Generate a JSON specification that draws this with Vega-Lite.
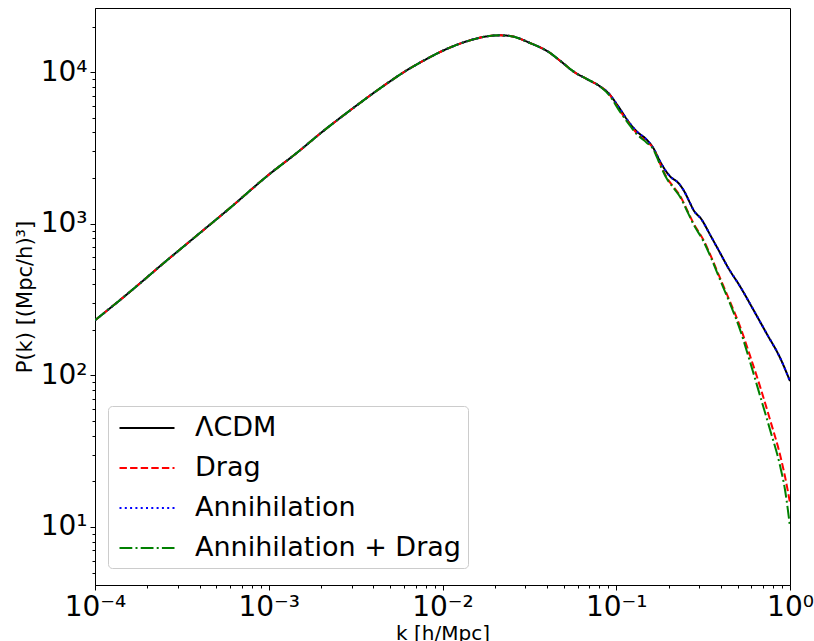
{
  "$schema": "https://vega.github.io/schema/vega-lite/v6.json",
  "width": 695,
  "height": 577,
  "autosize": {"type": "none"},
  "padding": {"left": 95, "top": 8, "right": 24, "bottom": 56},
  "background": "white",
  "config": {
    "font": "DejaVu Sans",
    "view": {"stroke": "black", "strokeWidth": 1},
    "axis": {"domainColor": "black", "tickColor": "black", "labelColor": "black", "titleColor": "black", "labelFont": "DejaVu Sans", "titleFont": "DejaVu Sans", "titleFontWeight": "normal", "labelFontSize": 28, "titleFontSize": 20, "grid": false, "tickWidth": 1, "domainWidth": 1}
  },
  "data": {"values": [
    {"k": 0.0001, "LCDM": 230.6, "Drag": 230.6, "Ann": 230.6, "AnnDrag": 230.6},
    {"k": 0.0001627, "LCDM": 363.7, "Drag": 363.7, "Ann": 363.7, "AnnDrag": 363.7},
    {"k": 0.0002528, "LCDM": 559.8, "Drag": 559.8, "Ann": 559.8, "AnnDrag": 559.8},
    {"k": 0.000393, "LCDM": 851.3, "Drag": 851.3, "Ann": 851.3, "AnnDrag": 851.3},
    {"k": 0.00062, "LCDM": 1316, "Drag": 1316, "Ann": 1316, "AnnDrag": 1316},
    {"k": 0.000964, "LCDM": 2035, "Drag": 2035, "Ann": 2035, "AnnDrag": 2035},
    {"k": 0.001513, "LCDM": 3050, "Drag": 3050, "Ann": 3050, "AnnDrag": 3050},
    {"k": 0.001972, "LCDM": 3929, "Drag": 3929, "Ann": 3929, "AnnDrag": 3929},
    {"k": 0.003066, "LCDM": 5805, "Drag": 5805, "Ann": 5805, "AnnDrag": 5805},
    {"k": 0.004774, "LCDM": 8398, "Drag": 8398, "Ann": 8398, "AnnDrag": 8398},
    {"k": 0.00622, "LCDM": 10277, "Drag": 10277, "Ann": 10277, "AnnDrag": 10277},
    {"k": 0.00811, "LCDM": 12220, "Drag": 12220, "Ann": 12220, "AnnDrag": 12220},
    {"k": 0.01057, "LCDM": 14223, "Drag": 14223, "Ann": 14223, "AnnDrag": 14223},
    {"k": 0.01378, "LCDM": 15970, "Drag": 15970, "Ann": 15970, "AnnDrag": 15970},
    {"k": 0.01796, "LCDM": 17224, "Drag": 17224, "Ann": 17224, "AnnDrag": 17224},
    {"k": 0.02142, "LCDM": 17490, "Drag": 17490, "Ann": 17490, "AnnDrag": 17490},
    {"k": 0.02446, "LCDM": 17330, "Drag": 17330, "Ann": 17330, "AnnDrag": 17330},
    {"k": 0.03189, "LCDM": 15580, "Drag": 15580, "Ann": 15580, "AnnDrag": 15580},
    {"k": 0.04158, "LCDM": 13390, "Drag": 13390, "Ann": 13390, "AnnDrag": 13390},
    {"k": 0.04747, "LCDM": 11907, "Drag": 11907, "Ann": 11907, "AnnDrag": 11907},
    {"k": 0.05658, "LCDM": 10120, "Drag": 10120, "Ann": 10120, "AnnDrag": 10120},
    {"k": 0.0676, "LCDM": 9018, "Drag": 9018, "Ann": 9018, "AnnDrag": 9018},
    {"k": 0.08063, "LCDM": 8058, "Drag": 8058, "Ann": 8058, "AnnDrag": 8058},
    {"k": 0.09, "LCDM": 7291, "Ann": 7291},
    {"k": 0.1027, "LCDM": 5949, "Ann": 5949},
    {"k": 0.1173, "LCDM": 4738, "Ann": 4738},
    {"k": 0.1311, "LCDM": 4069, "Ann": 4069},
    {"k": 0.1497, "LCDM": 3588, "Ann": 3588},
    {"k": 0.1633, "LCDM": 3162, "Ann": 3162},
    {"k": 0.1786, "LCDM": 2580, "Ann": 2580},
    {"k": 0.2039, "LCDM": 2055, "Ann": 2055},
    {"k": 0.2276, "LCDM": 1858, "Ann": 1858},
    {"k": 0.2431, "LCDM": 1678, "Ann": 1678},
    {"k": 0.2658, "LCDM": 1371, "Ann": 1371},
    {"k": 0.2776, "LCDM": 1239, "Ann": 1239},
    {"k": 0.3103, "LCDM": 1064, "Ann": 1064},
    {"k": 0.3465, "LCDM": 847.6, "Ann": 847.6},
    {"k": 0.3867, "LCDM": 674.9, "Ann": 674.9},
    {"k": 0.4415, "LCDM": 510.9, "Ann": 510.9},
    {"k": 0.5156, "LCDM": 386.5, "Ann": 386.5},
    {"k": 0.6149, "LCDM": 271.3, "Ann": 271.3},
    {"k": 0.7343, "LCDM": 188.4, "Ann": 188.4},
    {"k": 0.8758, "LCDM": 130.9, "Ann": 130.9},
    {"k": 1.0, "LCDM": 91.6, "Ann": 91.6},
    {"k": 0.09204, "Drag": 7053, "AnnDrag": 6950},
    {"k": 0.105, "Drag": 5572, "AnnDrag": 5490},
    {"k": 0.12, "Drag": 4505, "AnnDrag": 4440},
    {"k": 0.1311, "Drag": 3959, "AnnDrag": 3900},
    {"k": 0.1497, "Drag": 3480, "AnnDrag": 3428},
    {"k": 0.1633, "Drag": 3153, "AnnDrag": 3106},
    {"k": 0.1786, "Drag": 2491, "AnnDrag": 2454},
    {"k": 0.1952, "Drag": 2015, "AnnDrag": 1985},
    {"k": 0.2131, "Drag": 1757, "AnnDrag": 1731},
    {"k": 0.2328, "Drag": 1532, "AnnDrag": 1509},
    {"k": 0.2599, "Drag": 1184, "AnnDrag": 1166},
    {"k": 0.2776, "Drag": 1012, "AnnDrag": 997},
    {"k": 0.317, "Drag": 785.5, "AnnDrag": 770},
    {"k": 0.3541, "Drag": 594.9, "AnnDrag": 583},
    {"k": 0.3955, "Drag": 438.9, "AnnDrag": 428},
    {"k": 0.4517, "Drag": 306.3, "AnnDrag": 297.2},
    {"k": 0.5156, "Drag": 210.5, "AnnDrag": 200.2},
    {"k": 0.5886, "Drag": 134.9, "AnnDrag": 123.1},
    {"k": 0.6721, "Drag": 84.6, "AnnDrag": 73.5},
    {"k": 0.7674, "Drag": 51.0, "AnnDrag": 43.8},
    {"k": 0.8758, "Drag": 30.0, "AnnDrag": 25.4},
    {"k": 0.9359, "Drag": 21.5, "AnnDrag": 17.6},
    {"k": 1.0, "Drag": 14.4, "AnnDrag": 10.05}
  ]},
  "transform": [
    {"fold": ["LCDM", "Drag", "Ann", "AnnDrag"], "as": ["model", "P"]},
    {"filter": "isValid(datum.P)"}
  ],
  "mark": {"type": "line", "strokeWidth": 2, "clip": true, "interpolate": "monotone"},
  "encoding": {
    "x": {
      "field": "k", "type": "quantitative",
      "scale": {"type": "log", "domain": [0.0001, 1], "nice": false},
      "axis": {
        "title": "k [h/Mpc]",
        "titleFontSize": 20,
        "titleFont": "DejaVu Sans",
        "values": [0.0001, 0.0002, 0.0003, 0.0004, 0.0005, 0.0006, 0.0007, 0.0008, 0.0009, 0.001, 0.002, 0.003, 0.004, 0.005, 0.006, 0.007, 0.008, 0.009, 0.01, 0.02, 0.03, 0.04, 0.05, 0.06, 0.07, 0.08, 0.09, 0.1, 0.2, 0.3, 0.4, 0.5, 0.6, 0.7, 0.8, 0.9, 1],
        "labelExpr": "abs(log(datum.value)/LN10 - round(log(datum.value)/LN10)) < 1e-6 ? ['10⁻⁴','10⁻³','10⁻²','10⁻¹','10⁰'][round(log(datum.value)/LN10)+4] : ''",
        "tickSize": {"condition": {"test": "abs(log(datum.value)/LN10 - round(log(datum.value)/LN10)) < 1e-6", "value": 5}, "value": 3},
        "labelPadding": 3,
        "labelFlush": false,
        "labelOverlap": false,
        "labelBound": false,
        "titlePadding": 2
      }
    },
    "y": {
      "field": "P", "type": "quantitative",
      "scale": {"type": "log", "domain": [4.14, 26500], "nice": false},
      "axis": {
        "title": "P(k) [(Mpc/h)³]",
        "titleFontSize": 21,
        "titleFont": "DejaVu Sans",
        "values": [5, 6, 7, 8, 9, 10, 20, 30, 40, 50, 60, 70, 80, 90, 100, 200, 300, 400, 500, 600, 700, 800, 900, 1000, 2000, 3000, 4000, 5000, 6000, 7000, 8000, 9000, 10000, 20000],
        "labelExpr": "abs(log(datum.value)/LN10 - round(log(datum.value)/LN10)) < 1e-6 ? ['10⁰','10¹','10²','10³','10⁴'][round(log(datum.value)/LN10)] : ''",
        "tickSize": {"condition": {"test": "abs(log(datum.value)/LN10 - round(log(datum.value)/LN10)) < 1e-6", "value": 5}, "value": 3},
        "labelPadding": 3,
        "labelFlush": false,
        "labelOverlap": false,
        "labelBound": false,
        "titlePadding": 5
      }
    },
    "color": {
      "field": "model", "type": "nominal",
      "scale": {"domain": ["LCDM", "Drag", "Ann", "AnnDrag"], "range": ["#000000", "#ff0000", "#0000ff", "#008000"]},
      "legend": {
        "title": null, "orient": "none", "legendX": 13, "legendY": 398,
        "symbolType": "M-2,0H2", "symbolSize": 756.25, "symbolStrokeWidth": 2, "symbolOffset": 17,
        "labelFontSize": 27, "labelFont": "DejaVu Sans", "labelColor": "black", "labelOffset": 33, "labelLimit": 0,
        "rowPadding": 12, "padding": 7, "strokeColor": "#cccccc", "fillColor": "white", "cornerRadius": 4,
        "labelExpr": "{'LCDM':'ΛCDM','Drag':'Drag','Ann':'Annihilation','AnnDrag':'Annihilation + Drag'}[datum.label]"
      }
    },
    "strokeDash": {
      "field": "model", "type": "nominal",
      "scale": {"domain": ["LCDM", "Drag", "Ann", "AnnDrag"], "range": [[1, 0], [7.4, 3.2], [2, 3.3], [12.8, 3.2, 2, 3.2]]},
      "legend": {
        "title": null, "orient": "none", "legendX": 13, "legendY": 398,
        "symbolType": "M-2,0H2", "symbolSize": 756.25, "symbolStrokeWidth": 2, "symbolOffset": 17,
        "labelFontSize": 27, "labelFont": "DejaVu Sans", "labelColor": "black", "labelOffset": 33, "labelLimit": 0,
        "rowPadding": 12, "padding": 7, "strokeColor": "#cccccc", "fillColor": "white", "cornerRadius": 4,
        "labelExpr": "{'LCDM':'ΛCDM','Drag':'Drag','Ann':'Annihilation','AnnDrag':'Annihilation + Drag'}[datum.label]"
      }
    }
  }
}
